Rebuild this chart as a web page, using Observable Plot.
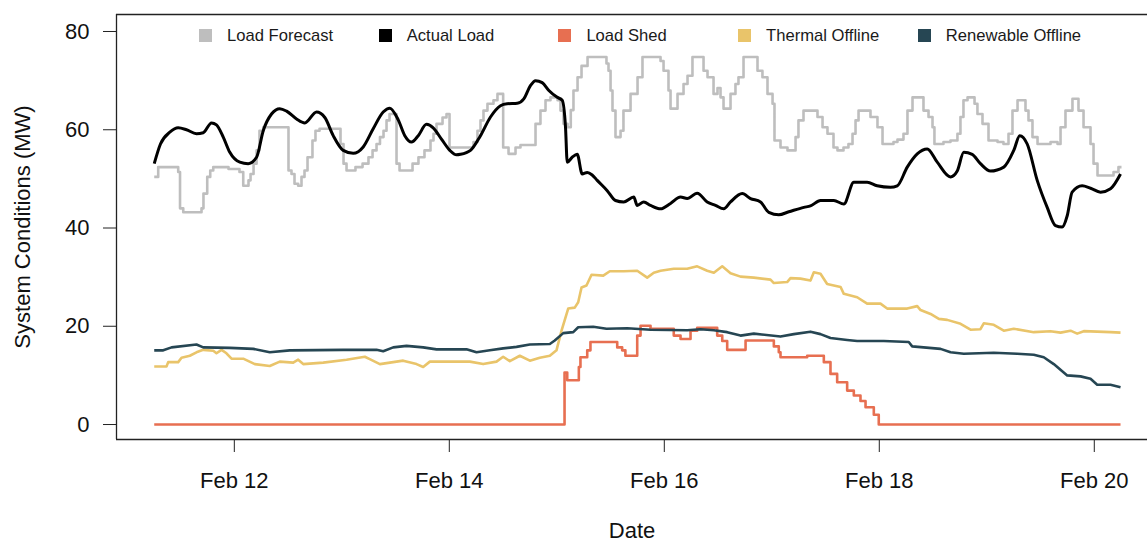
<!DOCTYPE html>
<html>
<head>
<meta charset="utf-8">
<script src="https://cdn.jsdelivr.net/npm/d3@7"></script>
<script src="https://cdn.jsdelivr.net/npm/@observablehq/plot@0.6"></script>
<style>
  html, body { margin: 0; padding: 0; background: #fff; }
  #wrap { position: relative; width: 1147px; height: 543px; font-family: "Liberation Sans", Arial, sans-serif; }
  #legend { position: absolute; left: 0; top: 0; width: 1147px; height: 0; }
  .item { position: absolute; top: 25px; height: 21px; display: flex; align-items: center; font-size: 16.6px; color: #1a1a1a; white-space: nowrap; }
  .sw { width: 13px; height: 13px; margin-right: 15px; }
</style>
</head>
<body>
<div id="wrap"><div id="legend"></div></div>
<script>
// ---- data (day-of-February decimals, values in MW) ----
const seriesNames = ["Load Forecast", "Actual Load", "Load Shed", "Thermal Offline", "Renewable Offline"];
const seriesColors = ["#BEBEBE", "#000000", "#E76F51", "#E9C46A", "#264653"];

const forecastDay = [11.255, 11.292, 11.478, 11.495, 11.525, 11.695, 11.713, 11.748, 11.776, 11.804, 11.946, 12.048, 12.083, 12.132, 12.151, 12.179, 12.207, 12.234, 12.269, 12.504, 12.532, 12.56, 12.594, 12.625, 12.653, 12.681, 12.727, 12.755, 12.793, 12.988, 13.016, 13.044, 13.127, 13.193, 13.248, 13.286, 13.323, 13.355, 13.388, 13.416, 13.444, 13.509, 13.537, 13.658, 13.713, 13.769, 13.825, 13.853, 13.881, 13.937, 13.974, 14.002, 14.225, 14.262, 14.29, 14.318, 14.355, 14.411, 14.448, 14.501, 14.551, 14.616, 14.662, 14.802, 14.848, 14.895, 14.941, 15.007, 15.034, 15.062, 15.1, 15.13, 15.155, 15.193, 15.23, 15.286, 15.462, 15.481, 15.5, 15.518, 15.546, 15.593, 15.62, 15.686, 15.751, 15.797, 15.965, 15.993, 16.039, 16.058, 16.123, 16.179, 16.216, 16.262, 16.365, 16.402, 16.458, 16.495, 16.523, 16.551, 16.616, 16.662, 16.69, 16.737, 16.867, 16.913, 16.96, 17.007, 17.025, 17.081, 17.146, 17.221, 17.248, 17.295, 17.425, 17.472, 17.518, 17.574, 17.611, 17.667, 17.713, 17.751, 17.779, 17.807, 17.918, 17.983, 18.03, 18.132, 18.169, 18.225, 18.262, 18.309, 18.411, 18.458, 18.495, 18.513, 18.597, 18.662, 18.727, 18.755, 18.783, 18.821, 18.886, 18.913, 18.96, 19.016, 19.1, 19.155, 19.202, 19.239, 19.286, 19.36, 19.388, 19.425, 19.472, 19.593, 19.658, 19.686, 19.732, 19.797, 19.853, 19.9, 19.965, 19.993, 20.03, 20.179, 20.225, 20.253];
const forecastMW = [50.4, 52.4, 51.4, 44, 43.2, 44, 47, 50.4, 51.7, 52.4, 52, 51.4, 48.6, 49.7, 51, 53.1, 55.8, 59.8, 60.5, 51.7, 51, 49, 48.6, 50.4, 51.7, 54.4, 57.8, 59.8, 60.2, 57.1, 53.1, 51.7, 52.4, 53.1, 54.4, 55.8, 57.1, 58.5, 59.8, 61.9, 63.2, 53.1, 51.7, 53.1, 54.4, 55.8, 57.8, 59.2, 61.2, 62.5, 63.2, 56.4, 57.5, 59.8, 61.9, 63.9, 65.3, 66, 67.3, 56.4, 55.1, 56.4, 56.9, 61.2, 63.9, 66, 66.6, 66, 63.9, 61.2, 60.5, 64, 68, 70.7, 73, 74.8, 73.5, 72, 68, 63.9, 58.5, 59.8, 63.9, 67.3, 70.7, 74.8, 74, 72, 68, 64.3, 67.3, 69.3, 71, 74.8, 72, 70.7, 67.3, 68.5, 66.6, 64.3, 67.3, 69.3, 70.7, 74.8, 72, 70.7, 67.3, 65.3, 57.8, 56.4, 55.8, 58.5, 61.9, 63.9, 62.6, 60.5, 59.2, 56.4, 55.8, 56.4, 57.1, 59.2, 61.9, 63.9, 62.6, 60.5, 57.1, 57.5, 58, 59.2, 63.9, 66.6, 63.9, 62.6, 60.5, 57.1, 57.5, 57.8, 59.2, 62.6, 66, 66.6, 65.3, 63.2, 61.2, 57.8, 57.5, 57.1, 59.2, 63.9, 66, 63.9, 61.9, 58.5, 57.1, 57.5, 57.1, 60.5, 63.9, 66.3, 63.9, 60.5, 57.1, 53.1, 50.7, 51.4, 52.4, 52.4];

const actualDay = [11.255, 11.313, 11.4, 11.478, 11.555, 11.648, 11.711, 11.788, 11.834, 11.897, 11.958, 12.051, 12.129, 12.207, 12.269, 12.346, 12.423, 12.486, 12.579, 12.656, 12.765, 12.842, 12.92, 13.013, 13.106, 13.199, 13.292, 13.385, 13.447, 13.525, 13.586, 13.648, 13.711, 13.788, 13.85, 13.927, 14.005, 14.067, 14.104, 14.197, 14.29, 14.383, 14.476, 14.538, 14.632, 14.693, 14.755, 14.802, 14.864, 14.926, 15.004, 15.05, 15.081, 15.097, 15.143, 15.19, 15.236, 15.283, 15.329, 15.376, 15.469, 15.546, 15.623, 15.716, 15.748, 15.809, 15.872, 15.965, 16.058, 16.151, 16.213, 16.306, 16.399, 16.476, 16.553, 16.616, 16.725, 16.802, 16.895, 16.972, 17.065, 17.158, 17.298, 17.36, 17.453, 17.577, 17.67, 17.763, 17.887, 17.98, 18.104, 18.167, 18.26, 18.353, 18.446, 18.539, 18.662, 18.725, 18.786, 18.864, 18.941, 19.034, 19.158, 19.251, 19.307, 19.376, 19.469, 19.562, 19.639, 19.701, 19.748, 19.794, 19.887, 19.965, 20.058, 20.151, 20.244];
const actualMW = [53.1, 57.1, 59.5, 60.4, 60, 59.2, 59.4, 61.4, 61, 58.5, 55.4, 53.4, 53.1, 54.4, 59.8, 63.2, 64.3, 63.8, 62.2, 61.4, 63.6, 62.5, 58.8, 55.8, 55.2, 56.5, 60.2, 63.6, 64.4, 62, 58.8, 57.5, 58.8, 61.1, 60.4, 58.1, 55.8, 54.9, 55, 55.8, 58.8, 62.6, 64.9, 65.3, 65.4, 66.3, 69, 70, 69.6, 68, 66.6, 66, 60.5, 53.4, 54.4, 55, 51, 51.3, 50.8, 49.7, 47.6, 45.6, 45.3, 46.3, 44.6, 45.3, 44.6, 43.9, 45, 46.3, 46, 47.1, 45.3, 44.6, 43.9, 45.3, 47, 46, 45.3, 43.2, 42.7, 43.3, 44.2, 44.5, 45.6, 45.6, 44.9, 49.3, 49.3, 48.6, 48.3, 48.6, 52.4, 55.1, 56.1, 53.4, 50.4, 51.6, 55.4, 55, 53.1, 51.6, 52.4, 55.8, 58.8, 57.1, 49.7, 44.2, 40.5, 40.2, 42.5, 47.3, 48.6, 48.1, 47.3, 48, 51];

const shedDay = [11.255, 15.072, 15.097, 15.205, 15.22, 15.283, 15.313, 15.562, 15.608, 15.638, 15.748, 15.779, 15.872, 16.088, 16.151, 16.244, 16.306, 16.492, 16.539, 16.585, 16.756, 17.019, 17.065, 17.081, 17.329, 17.484, 17.546, 17.608, 17.701, 17.763, 17.825, 17.872, 17.949, 17.995, 20.244];
const shedMW = [0, 10.6, 9, 11.7, 13.7, 15.1, 16.8, 15.7, 15.1, 14, 18.1, 20.1, 19.5, 18.1, 17.4, 19.1, 19.7, 18.1, 17, 15.2, 17.1, 15.9, 14.7, 13.7, 14, 12.7, 10.3, 8.6, 6.9, 5.9, 4.8, 3.5, 2, 0, 0];

const thermalDay = [11.255, 11.369, 11.385, 11.478, 11.509, 11.586, 11.648, 11.711, 11.804, 11.834, 11.881, 11.927, 11.974, 12.083, 12.191, 12.33, 12.423, 12.548, 12.594, 12.641, 12.827, 13.044, 13.214, 13.26, 13.354, 13.478, 13.571, 13.695, 13.757, 13.819, 14.005, 14.191, 14.315, 14.439, 14.501, 14.563, 14.656, 14.749, 14.842, 14.935, 14.997, 15.044, 15.106, 15.167, 15.199, 15.23, 15.276, 15.323, 15.432, 15.493, 15.623, 15.748, 15.841, 15.902, 15.965, 16.088, 16.213, 16.306, 16.399, 16.461, 16.539, 16.616, 16.709, 16.833, 16.988, 17.019, 17.143, 17.174, 17.267, 17.36, 17.391, 17.453, 17.515, 17.577, 17.64, 17.67, 17.794, 17.887, 18.011, 18.073, 18.26, 18.353, 18.384, 18.477, 18.554, 18.632, 18.756, 18.849, 18.941, 18.972, 19.065, 19.158, 19.251, 19.437, 19.592, 19.686, 19.779, 19.841, 19.902, 20.151, 20.244];
const thermalMW = [11.8, 11.8, 12.7, 12.7, 13.6, 14, 14.7, 15.2, 15, 14.5, 15.2, 14.5, 13.4, 13.4, 12.3, 11.9, 12.8, 12.6, 13.2, 12.3, 12.6, 13.2, 13.8, 13.3, 12.3, 12.7, 13, 12.3, 11.7, 12.8, 12.8, 12.8, 12.3, 12.8, 13.8, 12.9, 14, 13, 13.6, 14, 15.1, 19.1, 23.6, 23.8, 24.9, 27.9, 28.3, 30.5, 30.3, 31.2, 31.2, 31.3, 29.9, 30.9, 31.3, 31.7, 31.7, 32.2, 31.3, 30.9, 32.2, 30.8, 30.1, 29.9, 29.5, 28.8, 29, 29.8, 29.7, 29.3, 31, 30.7, 28.6, 28.3, 28, 26.6, 25.9, 24.6, 24.6, 23.6, 23.6, 24.1, 23.3, 22.5, 21.5, 21.3, 20.5, 19.3, 19.4, 20.6, 20.3, 19.1, 19.5, 18.8, 19, 18.7, 19.1, 18.5, 19, 18.8, 18.7];

const renewDay = [11.255, 11.339, 11.416, 11.648, 11.711, 11.958, 12.176, 12.33, 12.516, 13.013, 13.323, 13.385, 13.478, 13.602, 13.757, 13.881, 14.16, 14.253, 14.377, 14.501, 14.625, 14.749, 14.935, 14.981, 15.06, 15.153, 15.199, 15.339, 15.462, 15.655, 15.872, 16.213, 16.337, 16.461, 16.585, 16.709, 16.833, 17.081, 17.205, 17.36, 17.453, 17.546, 17.701, 17.794, 18.042, 18.274, 18.306, 18.57, 18.663, 18.786, 19.065, 19.283, 19.437, 19.53, 19.623, 19.748, 19.872, 19.965, 20.027, 20.151, 20.244];
const renewMW = [15.1, 15.1, 15.7, 16.3, 15.7, 15.6, 15.4, 14.7, 15.1, 15.2, 15.2, 14.9, 15.7, 16, 15.7, 15.3, 15.3, 14.7, 15.1, 15.5, 15.8, 16.3, 16.4, 17.1, 18.6, 18.8, 19.8, 19.9, 19.5, 19.6, 19.3, 19.2, 19.4, 19.2, 18.8, 18.1, 18.5, 17.9, 18.4, 18.9, 18.4, 17.6, 17.2, 17, 17, 16.8, 15.9, 15.4, 14.7, 14.4, 14.6, 14.4, 14.2, 13.7, 12.3, 10, 9.8, 9.3, 8.1, 8.1, 7.6];

const xTickDays = [12, 14, 16, 18, 20];
const yTicks = [0, 20, 40, 60, 80];
const xDomainDays = [10.904, 20.495];
const yDomain = [-3.05, 83.46];

// ---- helpers ----
const toDate = d => new Date(Date.UTC(2021, 1, 1) + (d - 1) * 864e5);
const rows = (days, vals) => days.map((d, i) => ({date: toDate(d), value: vals[i]}));
const xDomain = xDomainDays.map(toDate);

const lineOpts = (color, width, curve) => ({x: "date", y: "value", stroke: color, strokeWidth: width, curve, strokeLinejoin: "round", strokeLinecap: "butt"});

const chart = Plot.plot({
  width: 1147,
  height: 543,
  marginLeft: 116,
  marginRight: 0,
  marginTop: 14,
  marginBottom: 104,
  style: {fontFamily: "'Liberation Sans', Arial, sans-serif", fontSize: "22px", color: "#111", background: "white", overflow: "visible"},
  x: {type: "utc", domain: xDomain},
  y: {domain: yDomain},
  marks: [
    Plot.line(rows(forecastDay, forecastMW), lineOpts(seriesColors[0], 2.6, "step-after")),
    Plot.line(rows(actualDay, actualMW), lineOpts(seriesColors[1], 3, "monotone-x")),
    Plot.line(rows(shedDay, shedMW), lineOpts(seriesColors[2], 2.6, "step-after")),
    Plot.line(rows(thermalDay, thermalMW), lineOpts(seriesColors[3], 2.6, "linear")),
    Plot.line(rows(renewDay, renewMW), lineOpts(seriesColors[4], 2.6, "linear")),
    Plot.axisX({ticks: xTickDays.map(toDate), tickFormat: d3.utcFormat("%b %-d"), tickSize: 13, tickPadding: 20, label: null, stroke: "#222"}),
    Plot.axisY({ticks: yTicks, tickSize: 13, tickPadding: 14, label: null, stroke: "#222"}),
    Plot.ruleX([xDomain[0]], {stroke: "#222", strokeWidth: 1.3}),
    Plot.ruleY(yDomain, {stroke: "#222", strokeWidth: 1.3}),
    Plot.text(["Date"], {text: d => d, frameAnchor: "bottom", lineAnchor: "middle", textAnchor: "middle", dy: 91, fontSize: 22, fill: "#111"}),
    Plot.text(["System Conditions (MW)"], {text: d => d, frameAnchor: "left", textAnchor: "middle", lineAnchor: "middle", rotate: -90, dx: -93.5, fontSize: 22, fill: "#111"})
  ]
});
document.getElementById("wrap").prepend(chart);

// legend
const legend = document.getElementById("legend");
seriesNames.forEach((name, i) => {
  const item = document.createElement("div");
  item.className = "item";
  item.style.left = (199 + i * 179.7) + "px";
  const sw = document.createElement("span");
  sw.className = "sw";
  sw.style.background = seriesColors[i];
  item.appendChild(sw);
  item.appendChild(document.createTextNode(name));
  legend.appendChild(item);
});
</script>
</body>
</html>
